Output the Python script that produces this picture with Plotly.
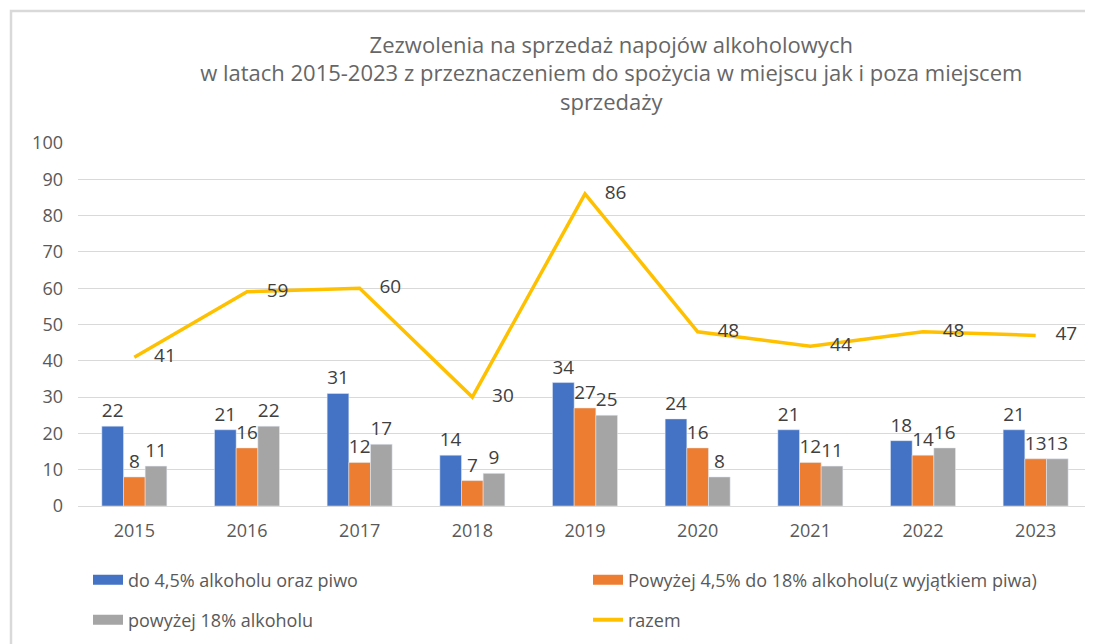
import plotly.graph_objects as go

years = ["2015", "2016", "2017", "2018", "2019", "2020", "2021", "2022", "2023"]
do_45 = [22, 21, 31, 14, 34, 24, 21, 18, 21]
od_45_18 = [8, 16, 12, 7, 27, 16, 12, 14, 13]
pow_18 = [11, 22, 17, 9, 25, 8, 11, 16, 13]
razem = [41, 59, 60, 30, 86, 48, 44, 48, 47]

names = ["do 4,5% alkoholu oraz piwo",
         "Powyżej 4,5% do 18% alkoholu(z wyjątkiem piwa)",
         "powyżej 18% alkoholu",
         "razem"]
colors = ["#4472C4", "#ED7D31", "#A5A5A5", "#FFC000"]
legends = ["legend", "legend", "legend2", "legend2"]

font_fam = "Open Sans, Liberation Sans, sans-serif"
lab_font = dict(size=19, color="#404040", family=font_fam)

fig = go.Figure()
for vals, nm, col in zip([do_45, od_45_18, pow_18], names[:3], colors[:3]):
    fig.add_trace(go.Bar(x=years, y=vals, name=nm, marker_color=col,
                         text=vals, textposition="outside", textfont=lab_font,
                         cliponaxis=False, showlegend=False, legendgroup=nm))
fig.add_trace(go.Scatter(x=years, y=razem, name=names[3], mode="lines+text",
                         line=dict(color=colors[3], width=3.5),
                         text=["\u00a0\u00a0\u00a0\u00a0" + str(v) for v in razem],
                         textposition="middle right",
                         textfont=lab_font, cliponaxis=False, showlegend=False,
                         legendgroup=names[3]))

# legend entries (wide colour swatches)
for nm, col, lg in zip(names, colors, legends):
    fig.add_trace(go.Scatter(x=[None], y=[None], mode="lines", name=nm,
                             line=dict(color=col, width=4 if nm == "razem" else 10),
                             legendgroup=nm, legend=lg, showlegend=True))

W, H = 1085, 636
L, R, T, B = 70, 1, 135, 138
plot_w = W - L - R
plot_h = H - T - B

leg_common = dict(orientation="h", x=10 / plot_w, xanchor="left", yanchor="middle",
                  entrywidth=455, entrywidthmode="pixels", traceorder="normal",
                  font=dict(size=18, color="#595959"))

fig.update_layout(
    width=W, height=H,
    margin=dict(l=L, r=R, t=T, b=B, autoexpand=False),
    paper_bgcolor="white", plot_bgcolor="white",
    barmode="group", bargap=0.423, bargroupgap=0,
    font=dict(family=font_fam, color="#595959", size=18),
    title=dict(text="Zezwolenia na sprzedaż napojów alkoholowych<br>w latach 2015-2023 z przeznaczeniem do spożycia w miejscu jak i poza miejscem<br>sprzedaży",
               x=0.556, xanchor="center", y=0.93, yanchor="top",
               font=dict(size=22, color="#666666")),
    xaxis=dict(showgrid=False, showline=True, linecolor="#D9D9D9", linewidth=1,
               ticks="", ticklabelstandoff=8,
               tickfont=dict(size=18, color="#595959")),
    yaxis=dict(range=[0, 100], dtick=10, showgrid=True, gridcolor="#D9D9D9",
               zeroline=False, showline=False, ticks="", ticklabelstandoff=14,
               tickfont=dict(size=18, color="#595959")),
    legend=dict(leg_common, y=-(572 - (T + plot_h)) / plot_h),
    legend2=dict(leg_common, y=-(612 - (T + plot_h)) / plot_h),
)
fig.add_shape(type="rect", xref="paper", yref="paper",
              x0=(3 - L) / plot_w, x1=1.2,
              y0=-1.0, y1=(T + plot_h - 3) / plot_h,
              line=dict(color="#D9D9D9", width=2.5), layer="below")
fig.write_html("out.html")
